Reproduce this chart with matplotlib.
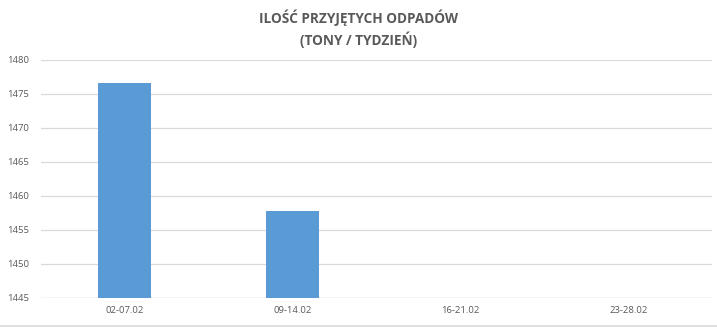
import numpy as np
import matplotlib
matplotlib.use('Agg')
from matplotlib import pyplot as plt
from matplotlib.lines import Line2D

weeks = ['02-07.02', '09-14.02', '16-21.02', '23-28.02']
tons = [1476.6, 1457.8, np.nan, np.nan]
yticks = [1445, 1450, 1455, 1460, 1465, 1470, 1475, 1480]

plt.rcParams['font.family'] = ['Open Sans', 'DejaVu Sans']
grey = '#595959'

fig = plt.figure(figsize=(7.17, 3.28), dpi=100)
ax = fig.add_axes([0.0565, 0.0915, 0.937, 0.727])

x = np.arange(len(weeks))
ax.bar(x, tons, width=0.316, color='#5b9bd5', zorder=3)

ax.set_xlim(-0.5, len(weeks) - 0.5)
ax.set_ylim(1445, 1480)
ax.set_yticks(yticks)
ax.set_xticks(x)
ax.set_xticklabels(weeks)
ax.tick_params(axis='both', length=0, labelsize=6.8, colors=grey, pad=6)
ax.tick_params(axis='y', pad=8)

ax.grid(axis='y', color='#d9d9d9', linewidth=0.9, zorder=0)
for s in ax.spines.values():
    s.set_visible(False)
ax.axhline(1445, color='#d9d9d9', linewidth=0.9, zorder=1)

fig.suptitle('ILOŚĆ PRZYJĘTYCH ODPADÓW\n(TONY / TYDZIEŃ)', y=0.972,
             fontsize=9.8, fontweight='bold', color=grey, linespacing=1.45)

# bottom chart border
fig.add_artist(Line2D([0, 1], [0.005, 0.005], transform=fig.transFigure,
                      color='#d9d9d9', linewidth=1.2))

plt.savefig('out.png', dpi=100)
